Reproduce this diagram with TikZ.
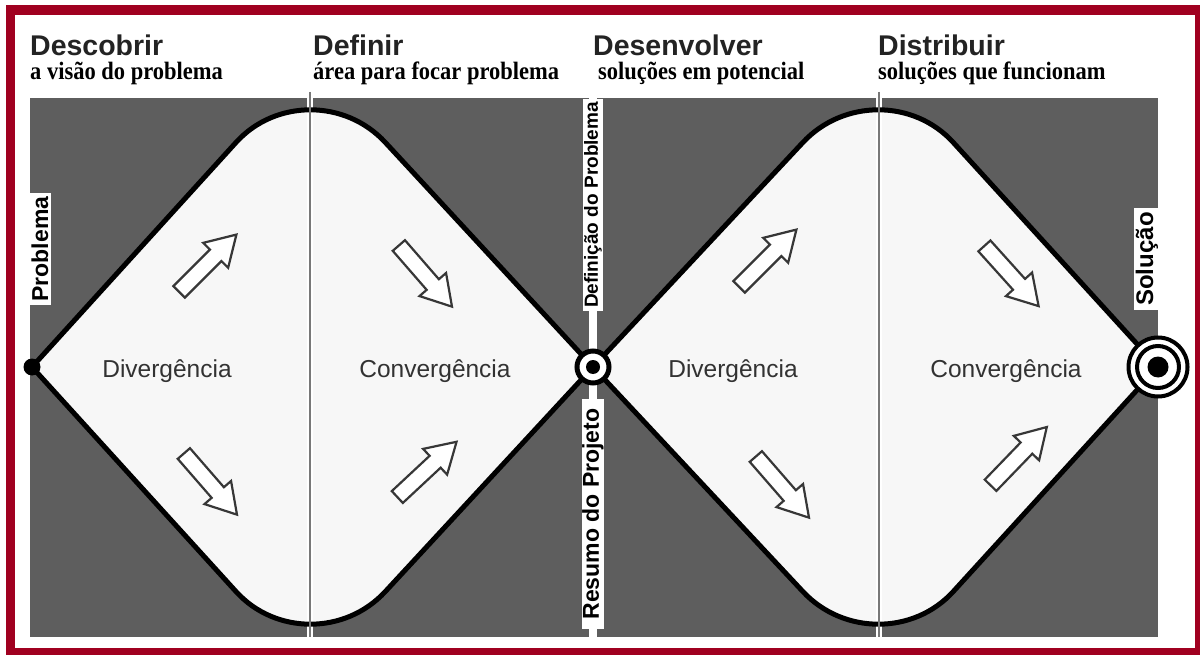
\documentclass[tikz,border=0pt]{standalone}
\usepackage{fontspec}
\setmainfont{Liberation Sans}
\newfontfamily\serifbold[FakeStretch=0.9]{Liberation Serif}
\usetikzlibrary{calc,shapes.arrows}
\definecolor{framered}{RGB}{160,0,32}
\definecolor{panelgray}{RGB}{94,94,94}
\definecolor{shapefill}{RGB}{247,247,247}
\definecolor{arrowline}{RGB}{55,55,55}
\definecolor{txt}{RGB}{35,35,35}
\definecolor{phasecol}{RGB}{50,50,50}
\definecolor{thinline}{RGB}{120,120,120}
\newcommand\leftlobe[1]{\path[#1] (L) -- ($(T1)!0.266!(L)$) .. controls ($(T1)!0.124!(L)$) and ($(T1)!0.124!(M)$) .. ($(T1)!0.266!(M)$) -- (M) -- ($(B1)!0.266!(M)$) .. controls ($(B1)!0.124!(M)$) and ($(B1)!0.124!(L)$) .. ($(B1)!0.266!(L)$) -- cycle;}
\newcommand\rightlobe[1]{\path[#1] (M) -- ($(T2)!0.266!(M)$) .. controls ($(T2)!0.124!(M)$) and ($(T2)!0.124!(R)$) .. ($(T2)!0.266!(R)$) -- (R) -- ($(B2)!0.266!(R)$) .. controls ($(B2)!0.124!(R)$) and ($(B2)!0.124!(M)$) .. ($(B2)!0.266!(M)$) -- cycle;}
\begin{document}
\begin{tikzpicture}[x=1pt,y=-1pt,
  titletext/.style={anchor=base west, inner sep=0pt, font=\fontsize{28.5}{30}\selectfont\bfseries, text=txt},
  subtext/.style={anchor=base west, inner sep=0pt, font=\fontsize{25}{26}\selectfont\serifbold\bfseries, text=black},
  phasetext/.style={anchor=base, inner sep=0pt, font=\fontsize{24.5}{26}\selectfont, text=phasecol},
  vlabel/.style={rotate=90, fill=white, inner sep=0pt, text=black},
  blockarrow/.style={single arrow, draw=arrowline, fill=white, line width=2.2pt,
     minimum height=81pt, inner xsep=0pt, inner ysep=7pt,
     single arrow head extend=9.5pt, single arrow tip angle=62, line join=miter},
]
\useasboundingbox (0,0) rectangle (1200,655);
% frame
\fill[white] (0,0) rectangle (1200,655);
\fill[framered] (6,5) rectangle (1200,655);
\fill[white] (15,15) rectangle (1195,648);
% coordinates
\coordinate (L) at (32,367);
\coordinate (T1) at (310,61);
\coordinate (M) at (593,367);
\coordinate (B1) at (310,673);
\coordinate (T2) at (879,61);
\coordinate (R) at (1158,367);
\coordinate (B2) at (879,673);
% panel
\fill[panelgray] (30,98) rectangle (1158,637);
\fill[white] (589,98) rectangle (597,637);
% lobes fill
\leftlobe{fill=shapefill}
\rightlobe{fill=shapefill}
% thin dividers halo
\draw[white, line width=6pt] (310,98) -- (310,637);
\draw[white, line width=6pt] (879,98) -- (879,637);
% outlines
\leftlobe{draw=black, line width=5pt, line join=round}
\rightlobe{draw=black, line width=5pt, line join=round}
\coordinate (d1top) at (310,92);
\coordinate (d1bot) at (310,637);
\coordinate (d2top) at (879,92);
\coordinate (d2bot) at (879,637);
\draw[thinline, line width=1.6pt] (d1top) -- (d1bot);
\draw[thinline, line width=1.6pt] (d2top) -- (d2bot);
% headers
\node[titletext] (h1) at (30,56) {Descobrir};
\node[subtext] (s1) at (30,80) {a visão do problema};
\node[titletext] (h2) at (313,56) {Definir};
\node[subtext] (s2) at (313,80) {área para focar problema};
\node[titletext] (h3) at (593,56) {Desenvolver};
\node[subtext] (s3) at (598,80) {soluções em potencial};
\node[titletext] (h4) at (878,56) {Distribuir};
\node[subtext] (s4) at (878,80) {soluções que funcionam};
% vertical labels
\node[vlabel, minimum width=112pt, minimum height=21pt, font=\fontsize{23}{25}\selectfont\bfseries] (problema) at (40,249) {Problema};
\node[vlabel, minimum width=212pt, minimum height=20pt, font=\fontsize{19}{21}\selectfont\bfseries] (defprob) at (593,205) {Definição do Problema};
\node[vlabel, minimum width=230pt, minimum height=20pt, font=\fontsize{23}{25}\selectfont\bfseries] (resumo) at (593,514) {Resumo do Projeto};
\node[vlabel, minimum width=102pt, minimum height=27pt, font=\fontsize{24}{26}\selectfont\bfseries] (solucao) at (1147,259) {Solução};
% points
\fill[black] (L) circle (8.5pt);
\node[circle, draw=black, line width=5pt, fill=white, minimum size=32pt, inner sep=0pt] (mid) at (M) {};
\fill[black] (mid.center) circle (7pt);
\node[circle, draw=black, line width=4pt, fill=white, minimum size=59pt, inner sep=0pt] (target) at (R) {};
\draw[black, line width=4pt] (target.center) circle (21pt);
\fill[black] (target.center) circle (10.5pt);
% phase texts
\node[phasetext] (div1) at (167,377) {Divergência};
\node[phasetext] (conv1) at (435,377) {Convergência};
\node[phasetext] (div2) at (733,377) {Divergência};
\node[phasetext] (conv2) at (1006,377) {Convergência};
% block arrows
\node[blockarrow, rotate=45] (a1) at (203,268) {};
\node[blockarrow, rotate=-49] (a2) at (206,479) {};
\node[blockarrow, rotate=-49] (a3) at (421,271) {};
\node[blockarrow, rotate=43] (a4) at (422,474) {};
\node[blockarrow, rotate=45] (a5) at (763,263) {};
\node[blockarrow, rotate=-49] (a6) at (778,482) {};
\node[blockarrow, rotate=-48] (a7) at (1007,271) {};
\node[blockarrow, rotate=46] (a8) at (1014,461) {};
\end{tikzpicture}
\end{document}
